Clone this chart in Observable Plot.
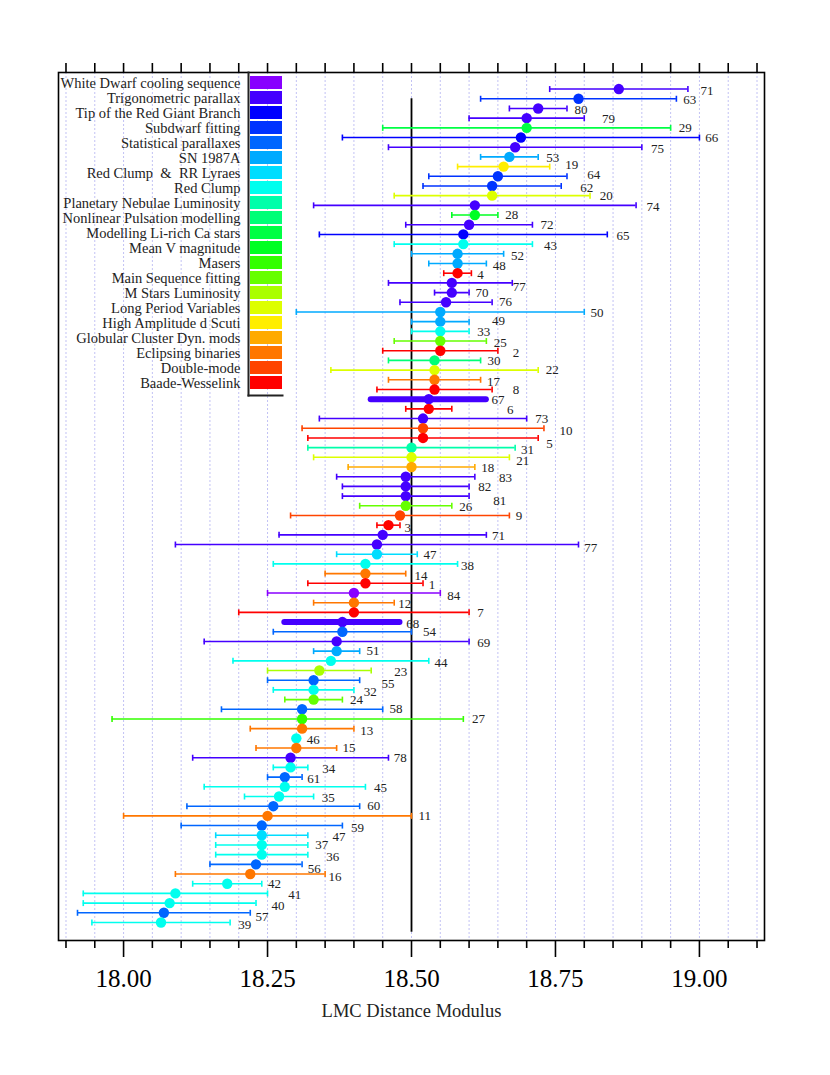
<!DOCTYPE html>
<html><head><meta charset="utf-8">
<script src="https://cdn.jsdelivr.net/npm/d3@7"></script>
<script src="https://cdn.jsdelivr.net/npm/@observablehq/plot@0.6"></script>
<style>
body{margin:0;background:#fff}
#wrap{position:relative;width:830px;height:1075px}
#legend{position:absolute;left:0;top:0}
</style>
</head><body><div id="wrap"><div id="main"></div><div id="legend"></div></div>
<script>
// Legend categories, top to bottom, with their colours and the first reference number of each
const methods = ["White Dwarf cooling sequence","Trigonometric parallax","Tip of the Red Giant Branch","Subdwarf fitting","Statistical parallaxes","SN 1987A","Red Clump  &  RR Lyraes","Red Clump","Planetary Nebulae Luminosity","Nonlinear Pulsation modelling","Modelling Li-rich Ca stars","Mean V magnitude","Masers","Main Sequence fitting","M Stars Luminosity","Long Period Variables","High Amplitude d Scuti","Globular Cluster Dyn. mods","Eclipsing binaries","Double-mode","Baade-Wesselink"];
const methodColors = ["#8800ff","#4400ff","#0000ff","#0033ff","#0066ff","#00aaff","#00ddff","#00ffee","#00ffaa","#00ff77","#00ff44","#00ff22","#33ff00","#66ff00","#aaff00","#ddff00","#ffee00","#ffaa00","#ff7700","#ff4400","#ff0000"];
const methodFirstRef = [84,67,65,62,54,48,47,32,31,30,29,28,27,24,23,20,19,18,11,9,1];

// Measurements, top row to bottom row
const refs   = [71,63,80,79,29,66,75,53,19,64,62,20,74,28,72,65,43,52,48,4,77,70,76,50,49,33,25,2,30,22,17,8,67,6,73,10,5,31,21,18,83,82,81,26,9,3,71,77,47,38,14,1,84,12,7,68,54,69,51,44,23,55,32,24,58,27,13,46,15,78,34,61,45,35,60,11,59,47,37,36,56,16,42,41,40,57,39];
const values = [18.86,18.79,18.72,18.70,18.70,18.69,18.68,18.67,18.66,18.65,18.64,18.64,18.61,18.61,18.60,18.59,18.59,18.58,18.58,18.58,18.57,18.57,18.56,18.55,18.55,18.55,18.55,18.55,18.54,18.54,18.54,18.54,18.53,18.53,18.52,18.52,18.52,18.50,18.50,18.50,18.49,18.49,18.49,18.49,18.48,18.46,18.45,18.44,18.44,18.42,18.42,18.42,18.40,18.40,18.40,18.38,18.38,18.37,18.37,18.36,18.34,18.33,18.33,18.33,18.31,18.31,18.31,18.30,18.30,18.29,18.29,18.28,18.28,18.27,18.26,18.25,18.24,18.24,18.24,18.24,18.23,18.22,18.18,18.09,18.08,18.07,18.065];
const lows   = [18.74,18.62,18.67,18.60,18.45,18.38,18.46,18.62,18.58,18.53,18.52,18.47,18.33,18.57,18.49,18.34,18.47,18.50,18.53,18.556,18.46,18.54,18.48,18.30,18.50,18.50,18.47,18.45,18.46,18.36,18.46,18.44,18.43,18.49,18.34,18.31,18.32,18.32,18.33,18.39,18.37,18.38,18.38,18.41,18.29,18.44,18.27,18.09,18.37,18.26,18.35,18.32,18.25,18.33,18.20,18.28,18.26,18.14,18.33,18.19,18.25,18.25,18.26,18.28,18.17,17.98,18.22,null,18.23,18.12,18.26,18.25,18.14,18.21,18.11,18.00,18.10,18.16,18.16,18.16,18.15,18.09,18.12,17.93,17.93,17.92,17.945];
const highs  = [18.98,18.96,18.77,18.80,18.95,19.00,18.90,18.72,18.74,18.77,18.76,18.81,18.89,18.65,18.71,18.84,18.71,18.66,18.63,18.604,18.675,18.60,18.64,18.80,18.60,18.60,18.63,18.65,18.62,18.72,18.62,18.64,18.63,18.57,18.70,18.73,18.72,18.68,18.67,18.61,18.61,18.60,18.60,18.57,18.67,18.48,18.63,18.79,18.51,18.58,18.49,18.52,18.55,18.47,18.60,18.48,18.50,18.60,18.41,18.53,18.43,18.41,18.40,18.38,18.45,18.59,18.40,null,18.37,18.46,18.32,18.31,18.42,18.33,18.41,18.50,18.38,18.32,18.32,18.32,18.31,18.35,18.24,18.25,18.23,18.22,18.185];
// rows drawn as thick summary bars
const thickRows = [32,55];
// where each reference number was written (distance modulus) and its vertical shift in rows
const labelX  = [19.002,18.972,18.783,18.831,18.964,19.010,18.916,18.734,18.767,18.805,18.793,18.827,18.908,18.663,18.724,18.856,18.730,18.673,18.641,18.614,18.676,18.611,18.652,18.811,18.640,18.614,18.643,18.676,18.632,18.733,18.631,18.676,18.639,18.666,18.715,18.757,18.734,18.690,18.682,18.621,18.652,18.616,18.642,18.583,18.681,18.488,18.640,18.800,18.521,18.586,18.505,18.530,18.562,18.477,18.614,18.491,18.520,18.614,18.422,18.540,18.470,18.448,18.417,18.393,18.462,18.605,18.411,18.318,18.380,18.469,18.345,18.319,18.435,18.344,18.423,18.512,18.395,18.363,18.333,18.352,18.320,18.356,18.251,18.286,18.257,18.229,18.199];
const labelDy = [0.2,0.15,0.13,0.1,0,0,0.2,0.1,-0.2,-0.2,0.2,0,0.1,0,0,0.15,0.2,0.2,0.2,0.2,0.4,0,0,0.1,-0.1,0,0.2,0.2,0,0,0.25,0,0.1,0.05,0,0.3,0.6,0.25,0.4,0.05,0.1,0.05,0.45,0.15,0.05,0.3,0.15,0.3,0.1,0.15,0.2,0.2,0.25,0.15,0.05,0.2,0,0.1,0,0.2,0.15,0.35,0.15,0,0,0,0.2,0.2,0,0,0.15,0.15,0.15,0.15,0,0,0.2,0.15,0,0.25,0.45,0.25,0,0.1,0.25,0.4,0.2];
const referenceLine = 18.5;
const axisTitle = "LMC Distance Modulus";

const methodOf = r => methods[methodFirstRef.findIndex(f => r >= f)];
const colorOf = m => methodColors[methods.indexOf(m)];
const rows = refs.map((r, i) => ({
  row: i, ref: String(r), method: methodOf(r), color: colorOf(methodOf(r)),
  v: values[i], lo: lows[i], hi: highs[i], lx: labelX[i], ly: i + labelDy[i],
  thick: thickRows.includes(i)
}));
const bars = rows.filter(d => d.lo != null && !d.thick);
const thickBars = rows.filter(d => d.thick);
const capEnds = bars.flatMap(d => [{x: d.lo, row: d.row, color: d.color}, {x: d.hi, row: d.row, color: d.color}]);

const capSymbol = {draw(ctx, size) { const r = Math.sqrt(size / Math.PI); ctx.moveTo(0, -r); ctx.lineTo(0, r); }};
const grid = d3.range(0, 25).map(k => +(17.9 + 0.05 * k).toFixed(2));
const majors = grid.filter(v => Math.abs(v * 4 - Math.round(v * 4)) < 1e-6);
const minors = grid.filter(v => !majors.includes(v));

const serif = "'Liberation Serif', 'Times New Roman', serif";

const chart = Plot.plot({
  width: 830, height: 1075,
  marginLeft: 58, marginRight: 66, marginTop: 72, marginBottom: 135,
  style: {fontFamily: serif, background: "white", color: "black"},
  x: {domain: [17.887, 19.113], axis: null},
  y: {domain: [-1.71, 87.86], reverse: true, axis: null},
  marks: [
    Plot.ruleX(grid, {stroke: "#c2c2f4", strokeWidth: 1, strokeDasharray: "2,2"}),
    Plot.ruleX([referenceLine], {y1: 1, y2: 87, stroke: "black", strokeWidth: 1.8}),
    Plot.ruleY(bars, {y: "row", x1: "lo", x2: "hi", stroke: "color", strokeWidth: 1.6}),
    Plot.dot(capEnds, {x: "x", y: "row", stroke: "color", symbol: capSymbol, r: 3, strokeWidth: 1.6}),
    Plot.ruleY(thickBars, {y: "row", x1: "lo", x2: "hi", stroke: "color", strokeWidth: 6, strokeLinecap: "round"}),
    Plot.dot(rows, {x: "v", y: "row", fill: "color", r: 5.2}),
    Plot.text(rows, {x: "lx", y: "ly", text: "ref", textAnchor: "start", fontSize: 13, fill: "#222", fontFamily: serif}),
    Plot.frame({stroke: "black", strokeWidth: 1.6}),
    Plot.axisX({anchor: "top", ticks: grid, tickSize: 10, tickFormat: () => "", label: null, strokeWidth: 1.6}),
    Plot.axisX({anchor: "bottom", ticks: minors, tickSize: 8, tickFormat: () => "", label: null, strokeWidth: 1.6}),
    Plot.axisX({anchor: "bottom", ticks: majors, tickSize: 17, tickPadding: 12, tickFormat: d3.format(".2f"), fontSize: 25, label: null, strokeWidth: 1.6}),
    Plot.text([axisTitle], {frameAnchor: "bottom", dy: 71, fontSize: 18.5, fill: "#222", fontFamily: serif, lineAnchor: "middle"})
  ]
});
document.getElementById("main").appendChild(chart);

const legend = Plot.plot({
  width: 300, height: 410,
  marginLeft: 250, marginRight: 18, marginTop: 73, marginBottom: 18,
  style: {fontFamily: serif, background: "none", color: "black"},
  x: {axis: null},
  y: {domain: methods, axis: null, padding: 0},
  marks: [
    Plot.cell(methods, {y: d => d, fill: d => colorOf(d), insetTop: 1, insetBottom: 1}),
    Plot.text(methods, {y: d => d, text: d => d, frameAnchor: "left", dx: -10, textAnchor: "end", fontSize: 14.5, fill: "#222", fontFamily: serif, lineAnchor: "middle"}),
    Plot.frame({anchor: "left", insetLeft: -2, insetTop: -1, insetBottom: -3, stroke: "#222", strokeWidth: 2}),
    Plot.frame({anchor: "bottom", insetLeft: -2, insetBottom: -3, stroke: "#222", strokeWidth: 2})
  ]
});
document.getElementById("legend").appendChild(legend);
</script></body></html>
